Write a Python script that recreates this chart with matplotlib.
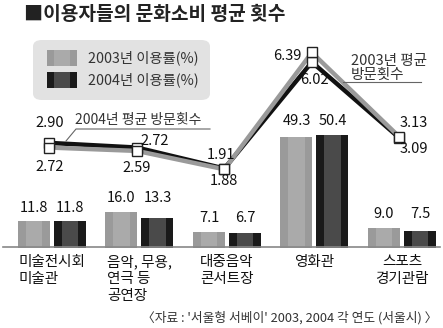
import matplotlib
matplotlib.use("Agg")
import matplotlib.pyplot as plt
from matplotlib.lines import Line2D
from matplotlib.patches import FancyBboxPatch, Rectangle
import numpy as np

plt.rcParams['font.family'] = ['Noto Sans CJK KR', 'DejaVu Sans']

categories = ["미술전시회\n미술관", "음악, 무용,\n연극 등\n공연장", "대중음악\n콘서트장", "영화관", "스포츠\n경기관람"]
rate_2003 = [11.8, 16.0, 7.1, 49.3, 9.0]
rate_2004 = [11.8, 13.3, 6.7, 50.4, 7.5]
visits_2003 = [2.72, 2.59, 1.88, 6.39, 3.13]
visits_2004 = [2.90, 2.72, 1.91, 6.02, 3.09]
rate_labels_2003 = ["11.8", "16.0", "7.1", "49.3", "9.0"]
rate_labels_2004 = ["11.8", "13.3", "6.7", "50.4", "7.5"]
visit_labels_2003 = ["2.72", "2.59", "1.88", "6.39", "3.13"]
visit_labels_2004 = ["2.90", "2.72", "1.91", "6.02", "3.09"]

W, H = 443, 328
fig = plt.figure(figsize=(W / 100, H / 100), dpi=100)
fig.patch.set_facecolor("white")

def fx(px):
    return px / W

def fy(py):
    return 1 - py / H

# Axes spanning the full width, from baseline (248px) to 30px
base_px, top_px = 248, 30
ax = fig.add_axes([0, fy(base_px), 1, fy(top_px) - fy(base_px)])
ax.set_xlim(-52 / 87.5, (W - 52) / 87.5)
ax.set_ylim(0, (base_px - top_px) / 2.25)
ax.axis("off")

ax2 = fig.add_axes(ax.get_position(), sharex=ax)
ax2.set_ylim(-(base_px - 218) / 25.9, (218 - top_px) / 25.9)
ax2.axis("off")
ax2.patch.set_alpha(0)

x = np.arange(len(categories))
bw = 32 / 87.5
off = 18 / 87.5

# bars with stripes
ax.bar(x - off, rate_2003, bw, color="#9a9a9a", zorder=2)
ax.bar(x - off, rate_2003, bw * 0.52, color="#aaaaaa", zorder=3)
ax.bar(x + off, rate_2004, bw, color="#1a1a1a", zorder=2)
ax.bar(x + off, rate_2004, bw * 0.52, color="#4a4a4a", zorder=3)

# bar value labels (above taller bar of each group)
for i in range(len(categories)):
    top = max(rate_2003[i], rate_2004[i])
    ax.annotate(rate_labels_2003[i], (x[i] - off, top), xytext=(0, 10), textcoords="offset points",
                ha="center", va="center", fontsize=10.5, color="#111111")
    ax.annotate(rate_labels_2004[i], (x[i] + off, top), xytext=(0, 10), textcoords="offset points",
                ha="center", va="center", fontsize=10.5, color="#111111")

# baseline
fig.add_artist(Line2D([fx(3), fx(440)], [fy(247), fy(247)], color="#888888", lw=1.2))

# lines
lx = x - 0.03
ax2.plot(lx, visits_2004, color="#111111", lw=3.2, zorder=4, solid_joinstyle="miter")
ax2.plot(lx, visits_2003, color="#9a9a9a", lw=3.2, zorder=5, solid_joinstyle="miter")
ax2.plot(lx, visits_2004, ls="none", marker="s", ms=6.5, mfc="white", mec="#222222", mew=1, zorder=6)
ax2.plot(lx, visits_2003, ls="none", marker="s", ms=6.5, mfc="white", mec="#222222", mew=1, zorder=7)

off_2004 = [(0, -20), (18, -7), (-3, -14), (3, 18), (14, 11)]
off_2003 = [(0, 19), (0, 17), (0, 12), (-25, 4), (14, -14)]
for i in range(len(categories)):
    dx, dy = off_2004[i]
    ax2.annotate(visit_labels_2004[i], (lx[i], visits_2004[i]), xytext=(dx * 0.72, -dy * 0.72),
                 textcoords="offset points", ha="center", va="center", fontsize=10.5, color="#111111", zorder=8)
    dx, dy = off_2003[i]
    ax2.annotate(visit_labels_2003[i], (lx[i], visits_2003[i]), xytext=(dx * 0.72, -dy * 0.72),
                 textcoords="offset points", ha="center", va="center", fontsize=10.5, color="#111111", zorder=8)

# series callouts
fig.text(fx(75), fy(120), "2004년 평균 방문횟수", fontsize=10, color="#333333", ha="left", va="center")
fig.add_artist(Line2D([fx(66), fx(76), fx(210)], [fy(141), fy(129), fy(129)], color="#666666", lw=0.8))
fig.text(fx(351), fy(79), "2003년 평균\n방문횟수", fontsize=10.5, color="#333333", ha="left", va="baseline",
         linespacing=1.0)
fig.add_artist(Line2D([fx(343), fx(421)], [fy(82), fy(82)], color="#666666", lw=0.8))

# category labels
aligns = ["left", "left", "left", "center", "center"]
for i, c in enumerate(categories):
    ax.annotate(c, (x[i], 0), xytext=(0, -7 * 0.72), textcoords="offset points", ha="center", va="top",
                multialignment=aligns[i], fontsize=10.5, color="#111111", linespacing=1.25,
                annotation_clip=False)

# legend box
lg = FancyBboxPatch((fx(33), fy(100)), fx(177), fy(40) - fy(100), boxstyle="round,pad=0,rounding_size=0.02",
                    transform=fig.transFigure, facecolor="#e2e2e2", edgecolor="none")
fig.add_artist(lg)
for row, (cy, c_out, c_in, lab) in enumerate([(58, "#9a9a9a", "#aaaaaa", "2003년 이용률(%)"),
                                               (80, "#1a1a1a", "#4a4a4a", "2004년 이용률(%)")]):
    fig.add_artist(Rectangle((fx(47), fy(cy + 8)), fx(30), fy(cy - 8) - fy(cy + 8),
                             transform=fig.transFigure, facecolor=c_out, edgecolor="none"))
    fig.add_artist(Rectangle((fx(54), fy(cy + 8)), fx(16), fy(cy - 8) - fy(cy + 8),
                             transform=fig.transFigure, facecolor=c_in, edgecolor="none"))
    fig.text(fx(88), fy(cy), lab, fontsize=10.3, color="#333333", ha="left", va="center")

# title
fig.text(fx(24), fy(14), "■이용자들의 문화소비 평균 횟수", fontsize=13.8, fontweight="bold",
         color="#222222", ha="left", va="center")

# source
fig.text(fx(437), fy(318), "〈자료 : '서울형 서베이' 2003, 2004 각 연도 (서울시) 〉", fontsize=9.2,
         color="#333333", ha="right", va="center")

fig.savefig("out.png", dpi=100)
